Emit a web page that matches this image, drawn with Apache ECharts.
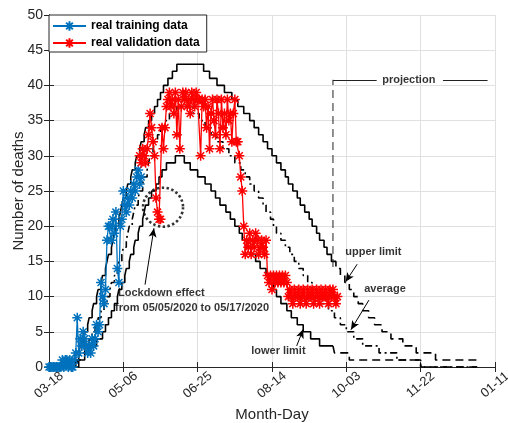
<!DOCTYPE html>
<html>
<head>
<meta charset="utf-8">
<script src="https://cdn.jsdelivr.net/npm/echarts@6/dist/echarts.min.js"></script>
<style>
  html, body { margin: 0; padding: 0; background: #fff; }
  #chart { width: 508px; height: 423px; }
</style>
</head>
<body>
<div id="chart"></div>
<script>
// x axis: days counted from the first tick, one tick every 50 days
const tickLabels = ['03-18', '05-06', '06-25', '08-14', '10-03', '11-22', '01-11'];

// daily deaths, training period (starts on day 0)
const trainStart = 0;
const trainingDeaths = [
  0, 0, 0, 0, 0, 0, 0, 0, 0, 1,
  0, 1, 1, 0, 1, 0, 0, 1, 2, 7,
  2, 4, 3, 5, 4, 3, 2, 3, 2, 4,
  3, 4, 6, 5, 6, 12, 10, 9, 11, 18,
  20, 20, 18, 21, 19, 22, 14, 12, 20, 21,
  25, 23, 22, 24, 23, 25, 24, 26, 25, 27,
  28, 26, 27
];

// daily deaths, validation period
const validationStart = 61;
const validationDeaths = [
  30, 29, 31, 30, 29, 31, 33, 36, 34, 32,
  30, 24, 22, 21, 21, 34, 31, 34, 37, 38,
  39, 37, 38, 36, 39, 33, 38, 31, 37, 39,
  38, 39, 37, 38, 36, 39, 38, 37, 39, 38,
  38, 30, 38, 37, 38, 34, 37, 31, 36, 38,
  35, 33, 38, 36, 31, 38, 34, 36, 33, 38,
  35, 36, 32, 36, 38, 32, 32, 30, 27, 25,
  20, 16, 18, 17, 19, 16, 18, 17, 19, 18,
  16, 17, 18, 17, 16, 18, 13, 12, 13, 11,
  13, 12, 13, 12, 13, 12, 13, 12, 13, 12,
  10, 11, 10, 9, 11, 10, 10, 11, 9, 10,
  11, 10, 9, 11, 10, 10, 11, 9, 10, 11,
  10, 9, 11, 10, 10, 11, 10, 9, 11, 10,
  11, 10, 9, 10
];

// Model curves as whole-number levels.
// *RiseDays[k]  = day on which the curve climbs to level k + 1
// *FallDays[k]  = day on which the curve drops to level (peak - 1 - k)
const upperRiseDays = [18, 20, 21, 23, 24, 26, 27, 29, 30, 32, 33, 35, 36, 38, 39, 40, 42, 43, 44, 45,
  47, 48, 49, 50, 52, 53, 55, 56, 58, 59, 61, 62, 64, 65, 67, 69, 71, 73, 75, 77, 80, 83, 86];
const upperFallDays = [104, 108, 113, 118, 123, 127, 131, 135, 138, 141, 144, 147, 150, 153, 156, 159,
  161, 164, 167, 169, 172, 175, 177, 180, 182, 185, 187, 190, 193, 196, 199, 202, 205, 208, 211, 215,
  219, 224, 230, 238, 247, 260];

const averageRiseDays = [19, 21, 24, 27, 29, 31, 33, 35, 37, 39, 41, 42, 44, 46, 47, 49, 50, 52, 53, 54,
  56, 57, 58, 60, 61, 63, 64, 66, 67, 68, 70, 71, 73, 75, 78, 81, 86];
const averageFallDays = [97, 101, 105, 109, 113, 117, 121, 125, 129, 132, 135, 138, 141, 144, 146, 149,
  151, 153, 156, 159, 162, 165, 168, 171, 174, 177, 180, 184, 188, 192, 196, 200, 205, 211, 222, 234, 250];

const lowerRiseDays = [20, 24, 28, 32, 36, 38, 40, 42, 44, 46, 47, 49, 51, 52, 54, 55, 57, 58, 60, 61,
  63, 64, 65, 67, 69, 72, 74, 76, 79, 85];
const lowerFallDays = [91, 95, 100, 105, 109, 112, 115, 119, 122, 125, 128, 130, 133, 136, 139, 142,
  146, 148, 151, 153, 156, 160, 163, 167, 171, 176, 182, 192, 202, 250];

const curveEndDay = 288;
const projectionDay = 191;

const FONT = '"Liberation Sans", Arial, Helvetica, sans-serif';
const AXIS_COLOR = '#262626';
const STAR = 'path://M5,0L5,10M0,5L10,5M1.5,1.5L8.5,8.5M1.5,8.5L8.5,1.5';

function levelSteps(riseDays, fallDays, endDay) {
  const pts = [[0, 0]];
  riseDays.forEach((d, i) => pts.push([d, i + 1]));
  const peak = riseDays.length;
  fallDays.forEach((d, i) => pts.push([d, peak - 1 - i]));
  pts.push([endDay, pts[pts.length - 1][1]]);
  return pts;
}

function splitAt(points, day) {
  const before = points.filter(p => p[0] <= day);
  const level = before[before.length - 1][1];
  const after = points.filter(p => p[0] > day);
  return [before.concat([[day, level]]), [[day, level]].concat(after)];
}

const upperPts = levelSteps(upperRiseDays, upperFallDays, curveEndDay);
const averagePts = levelSteps(averageRiseDays, averageFallDays, curveEndDay);
const lowerPts = levelSteps(lowerRiseDays, lowerFallDays, curveEndDay);
const [upperFit, upperProj] = splitAt(upperPts, projectionDay);
const [lowerFit, lowerProj] = splitAt(lowerPts, projectionDay);

function curve(name, data, dash) {
  return {
    type: 'line', name, data, step: 'end', symbol: 'none', silent: true, z: 2,
    lineStyle: { color: '#000', width: 1.6, type: dash }
  };
}

function observed(name, start, values, color) {
  return {
    type: 'line', name, z: 3,
    data: values.map((v, i) => [start + i, v]),
    symbol: STAR, symbolSize: 10, showAllSymbol: true,
    itemStyle: { color: color, borderColor: color, borderWidth: 1.5 },
    lineStyle: { color: color, width: 1.3 }
  };
}

// annotation texts: [day, deaths, text, align]
const notes = [
  [218.2, 16.3, 'upper limit', 'center'],
  [226, 11.1, 'average', 'center'],
  [154.3, 2.27, 'lower limit', 'center'],
  [46.4, 10.5, 'Lockdown effect', 'left'],
  [44.4, 8.4, 'from 05/05/2020 to 05/17/2020', 'left'],
  [242, 40.8, 'projection', 'center']
];
// arrows: [tailDay, tailDeaths, headDay, headDeaths]
const arrows = [
  [64.6, 11.7, 70.6, 19.7],
  [207.3, 14.6, 199.5, 12.1],
  [215.2, 9.5, 203.1, 5.3],
  [166.6, 3.0, 171.0, 5.35]
];
const lockdownCentre = [76.7, 22.7];
const projectionTop = 40.8;
const projectionFoot = 14.2;
const projectionTextGap = [220.4, 265];
const projectionRightEnd = 295;

const chart = echarts.init(document.getElementById('chart'), null, { renderer: 'canvas' });

const baseAxis = {
  type: 'value',
  axisLine: { show: true, lineStyle: { color: AXIS_COLOR, width: 1 } },
  axisTick: { show: true, inside: true, length: 5, lineStyle: { color: AXIS_COLOR, width: 1 } }
};

chart.setOption({
  animation: false,
  backgroundColor: '#fff',
  textStyle: { fontFamily: FONT },
  grid: { left: 49, right: 13, top: 15, bottom: 56, containLabel: false, outerBoundsMode: 'none' },
  legend: {
    data: ['real training data', 'real validation data'],
    orient: 'vertical', left: 49, top: 15,
    itemWidth: 33, itemHeight: 12, itemGap: 5,
    padding: [5, 7, 3, 3],
    backgroundColor: '#fff', borderColor: AXIS_COLOR, borderWidth: 1,
    textStyle: { fontFamily: FONT, fontWeight: 'bold', fontSize: 12, color: '#000' },
    selectedMode: false
  },
  xAxis: [
    Object.assign({}, baseAxis, {
      position: 'bottom', min: 0, max: 300, interval: 50,
      splitLine: { show: true, lineStyle: { color: '#e0e0e0', width: 1 } },
      axisLabel: {
        formatter: v => tickLabels[Math.round(v / 50)] || '',
        rotate: 40, fontSize: 13, color: AXIS_COLOR, fontFamily: FONT,
        align: 'center', verticalAlign: 'middle', margin: 18
      },
      name: 'Month-Day', nameLocation: 'middle', nameGap: 40, nameMoveOverlap: false,
      nameTextStyle: { fontSize: 15, color: AXIS_COLOR, fontFamily: FONT }
    }),
    Object.assign({}, baseAxis, {
      position: 'top', min: 0, max: 300, interval: 50,
      splitLine: { show: false }, axisLabel: { show: false }
    })
  ],
  yAxis: [
    Object.assign({}, baseAxis, {
      position: 'left', min: 0, max: 50, interval: 5,
      splitLine: { show: true, lineStyle: { color: '#e0e0e0', width: 1 } },
      axisLabel: { fontSize: 14, color: AXIS_COLOR, fontFamily: FONT, margin: 6 },
      name: 'Number of deaths', nameLocation: 'middle', nameGap: 23, nameMoveOverlap: false,
      nameTextStyle: { fontSize: 15, color: AXIS_COLOR, fontFamily: FONT }
    }),
    Object.assign({}, baseAxis, {
      position: 'right', min: 0, max: 50, interval: 5,
      splitLine: { show: false }, axisLabel: { show: false }
    })
  ],
  series: [
    curve('upper limit', upperFit, 'solid'),
    curve('upper limit projection', upperProj, [8, 5]),
    curve('average', averagePts, [7, 3.5, 2, 3.5]),
    curve('lower limit', lowerFit, 'solid'),
    curve('lower limit projection', lowerProj, [8, 5]),
    observed('real training data', trainStart, trainingDeaths, '#0072BD'),
    observed('real validation data', validationStart, validationDeaths, '#FF0000'),
    {
      // start of the projection window
      type: 'line', silent: true, z: 4, symbol: 'none',
      data: [[projectionDay, projectionFoot], [projectionDay, projectionTop]],
      lineStyle: { color: '#222', width: 1, type: [8, 5] },
      markLine: {
        silent: true, symbol: ['none', 'none'], label: { show: false },
        lineStyle: { color: '#222', width: 1, type: 'solid' },
        data: [
          [{ coord: [projectionDay, projectionTop] }, { coord: [projectionTextGap[0], projectionTop] }],
          [{ coord: [projectionTextGap[1], projectionTop] }, { coord: [projectionRightEnd, projectionTop] }]
        ]
      }
    },
    {
      // dotted ring around the lockdown dip
      type: 'scatter', silent: true, z: 4,
      data: [lockdownCentre],
      symbol: 'circle', symbolSize: [40, 39],
      itemStyle: { color: 'rgba(0,0,0,0)', borderColor: '#000', borderWidth: 2.6, borderType: [2.4, 2.4] }
    },
    {
      type: 'scatter', silent: true, z: 5,
      symbolSize: 1,
      itemStyle: { color: 'rgba(0,0,0,0)' },
      data: notes.map(n => ({ value: [n[0], n[1]], name: n[2], label: { align: n[3] } })),
      label: {
        show: true, position: 'inside', formatter: p => p.name,
        color: '#000', fontWeight: 'bold', fontSize: 11, fontFamily: FONT
      },
      markLine: {
        silent: true, symbol: ['none', 'arrow'], symbolSize: [6, 9],
        label: { show: false },
        lineStyle: { color: '#000', width: 1, type: 'solid' },
        data: arrows.map(a => [{ coord: [a[0], a[1]] }, { coord: [a[2], a[3]] }])
      }
    }
  ]
});
</script>
</body>
</html>
